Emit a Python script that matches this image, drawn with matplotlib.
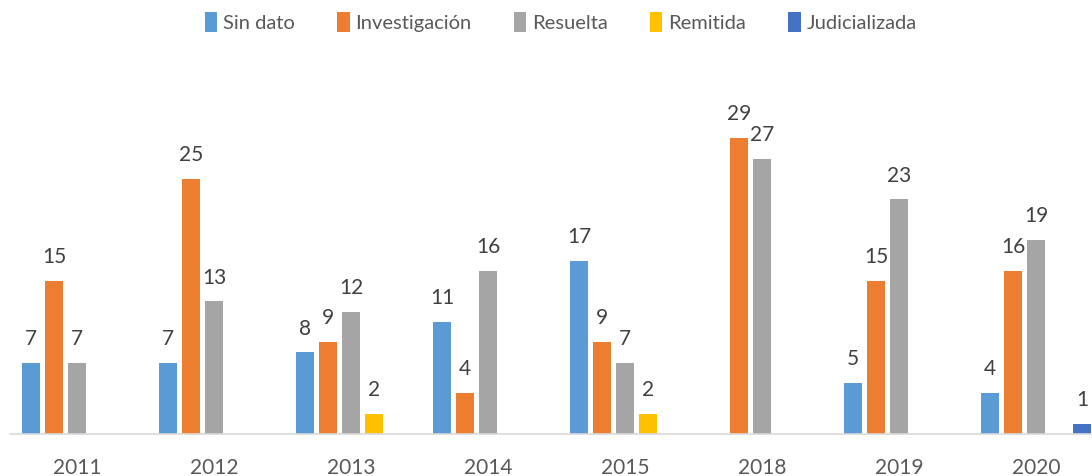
import numpy as np
import matplotlib
matplotlib.use('Agg')
import matplotlib.pyplot as plt

# Data
years = ['2011', '2012', '2013', '2014', '2015', '2018', '2019', '2020']
sin_dato = [7, 7, 8, 11, 17, 0, 5, 4]
investigacion = [15, 25, 9, 4, 9, 29, 15, 16]
resuelta = [7, 13, 12, 16, 7, 27, 23, 19]
remitida = [0, 0, 2, 0, 2, 0, 0, 0]
judicializada = [0, 0, 0, 0, 0, 0, 0, 1]

series = [('Sin dato', sin_dato, '#5B9BD5'),
          ('Investigación', investigacion, '#ED7D31'),
          ('Resuelta', resuelta, '#A5A5A5'),
          ('Remitida', remitida, '#FFC000'),
          ('Judicializada', judicializada, '#4472C4')]

plt.rcParams['font.family'] = ['Lato', 'DejaVu Sans']

W, H = 1092, 476
fig = plt.figure(figsize=(W / 100, H / 100), dpi=100)
ax = fig.add_axes([10 / W, (H - 434) / H, (W - 10) / W, (434 - 70) / H])

x = np.arange(len(years))
step = 0.168
width = 0.131
handles = []
for i, (name, vals, color) in enumerate(series):
    pos = x + (i - 2) * step
    bars = ax.bar(pos, vals, width=width, color=color, label=name, zorder=2)
    handles.append(bars)
    for b, v in zip(bars, vals):
        if v == 0:
            continue
        ax.annotate(str(v), (b.get_x() + b.get_width() / 2, v),
                    xytext=(0, 10), textcoords='offset points',
                    ha='center', va='bottom', fontsize=15, color='#404040')

ax.set_xlim(-0.489, 7.409)
ax.set_ylim(0, 35.7)
ax.set_xticks(x)
ax.set_xticklabels(years, fontsize=15, color='#595959')
ax.tick_params(axis='x', length=0, pad=17)
ax.set_yticks([])
for s in ['top', 'right', 'left']:
    ax.spines[s].set_visible(False)
ax.spines['bottom'].set_color('#D9D9D9')
ax.spines['bottom'].set_linewidth(1.2)

fig.legend(handles=handles, loc='center', bbox_to_anchor=(561 / W, 1 - 22 / H),
           ncol=5, frameon=False, fontsize=14.5, handlelength=0.6, handleheight=1.1,
           handletextpad=0.3, columnspacing=2.1, labelcolor='#595959')

fig.savefig('out.png', dpi=100)
